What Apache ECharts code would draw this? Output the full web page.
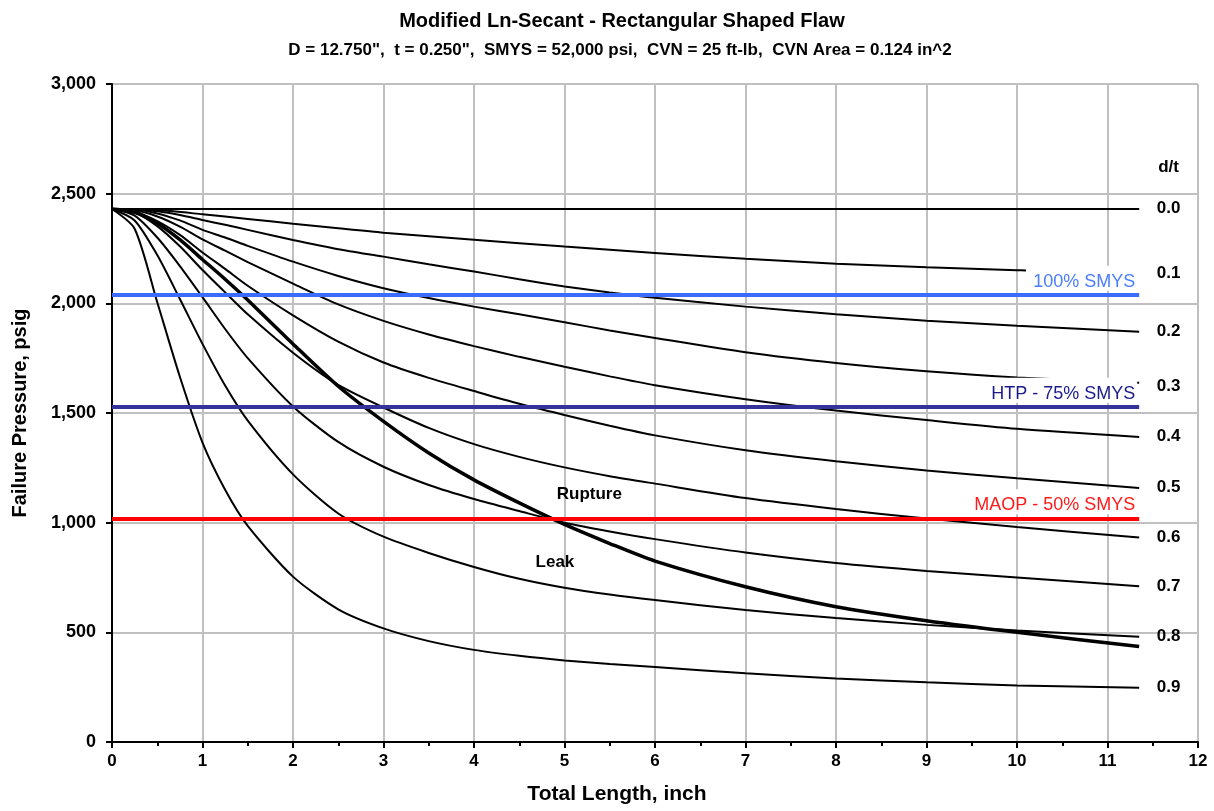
<!DOCTYPE html>
<html>
<head>
<meta charset="utf-8">
<title>Modified Ln-Secant - Rectangular Shaped Flaw</title>
<script src="https://cdn.jsdelivr.net/npm/echarts@6/dist/echarts.min.js"></script>
<style>
  html, body { margin: 0; padding: 0; background: #fff; }
  #chart { width: 1214px; height: 811px; }
</style>
</head>
<body>
<div id="chart"></div>
<script>
const FONT = '"Liberation Sans", Arial, sans-serif'

// total flaw length, inch (shared by the d/t = 0.2 ... 0.9 curves)
const lengths = [0, 0.25, 0.5, 0.75, 1, 1.25, 1.5, 2, 2.5, 3, 3.5, 4, 4.5, 5, 5.5, 6, 7, 8, 9, 10, 11.35]

// failure pressure, psig
const dt00Len = [0, 11.35]
const dt00 = [2430, 2430]
const dt01Len = [0, 0.5, 1, 1.5, 2, 2.5, 3, 4, 5, 6, 7, 8, 9, 10, 10.1]
const dt01 = [2430, 2425, 2406, 2385, 2363, 2342, 2322, 2290, 2259, 2230, 2203, 2181, 2164, 2151, 2150]
const dt02 = [2430, 2429, 2420, 2403, 2380, 2358, 2335, 2289, 2247, 2213, 2178, 2145, 2110, 2077, 2049, 2025, 1985, 1950, 1921, 1898, 1871]
const dt03 = [2430, 2428, 2410, 2378, 2335, 2300, 2262, 2190, 2125, 2069, 2024, 1985, 1950, 1914, 1876, 1842, 1777, 1728, 1690, 1662, 1638]
const dt04 = [2430, 2424, 2396, 2350, 2292, 2240, 2188, 2090, 1995, 1920, 1858, 1805, 1756, 1711, 1667, 1627, 1563, 1511, 1468, 1428, 1391]
const dt05 = [2430, 2418, 2375, 2312, 2232, 2157, 2080, 1945, 1825, 1730, 1660, 1600, 1542, 1491, 1442, 1398, 1330, 1280, 1238, 1203, 1158]
const dt06 = [2430, 2414, 2352, 2260, 2152, 2050, 1950, 1775, 1628, 1525, 1432, 1358, 1300, 1252, 1212, 1178, 1112, 1062, 1019, 980, 932]
const dt07 = [2430, 2400, 2300, 2170, 2028, 1883, 1750, 1530, 1368, 1255, 1172, 1108, 1053, 1000, 960, 925, 864, 816, 780, 750, 710]
const dt08 = [2430, 2378, 2220, 2020, 1815, 1625, 1465, 1220, 1042, 936, 862, 798, 744, 703, 672, 647, 602, 565, 534, 508, 480]
const dt09 = [2430, 2340, 2005, 1665, 1365, 1150, 985, 754, 605, 518, 460, 420, 393, 372, 356, 342, 313, 290, 272, 258, 247]

// leak / rupture boundary
const ruptureLen = [0, 0.25, 0.5, 0.75, 1, 1.25, 1.5, 2, 2.5, 3, 3.5, 4, 4.5, 5, 5.5, 6, 7, 8, 9, 10, 11.35]
const rupture = [2430, 2415, 2365, 2290, 2200, 2110, 2015, 1815, 1622, 1462, 1318, 1195, 1090, 992, 905, 825, 708, 617, 553, 500, 435]

// reference pressures
const refNames = ['100% SMYS', 'HTP - 75% SMYS', 'MAOP - 50% SMYS']
const refLevels = [2039, 1529, 1020]
const refColors = ['#3c6cff', '#333399', '#ff0000']
const refTextColors = ['#4a7dff', '#1a1a8c', '#ff1a1a']
const refEnd = 11.35

// d/t labels at the right edge
const dtLabels = ['d/t', '0.0', '0.1', '0.2', '0.3', '0.4', '0.5', '0.6', '0.7', '0.8', '0.9']
const dtLabelY = [2617, 2430, 2135, 1872, 1620, 1390, 1157, 932, 708, 480, 245]
const dtLabelX = 11.68

const regionLabels = ['Rupture', 'Leak']
const regionX = [5.28, 4.9]
const regionY = [1126, 816]

const zip = (xs, ys) => xs.map((x, i) => [x, ys[i]])

const curve = (name, xs, ys, width) => ({
  name,
  type: 'line',
  data: zip(xs, ys),
  showSymbol: false,
  smooth: 0.25,
  silent: true,
  z: 2,
  lineStyle: { color: '#000', width: width || 2 }
})

const textLabels = (name, points, texts, size) => ({
  name,
  type: 'scatter',
  silent: true,
  z: 6,
  symbolSize: 1,
  itemStyle: { color: '#fff', opacity: 1 },
  data: points,
  label: {
    show: true,
    position: [0, 0],
    align: 'center',
    verticalAlign: 'middle',
    formatter: p => texts[p.dataIndex],
    color: '#000',
    opacity: 1,
    textBorderWidth: 0,
    fontFamily: FONT,
    fontWeight: 'bold',
    fontSize: size
  }
})

const series = [
  curve('0.0', dt00Len, dt00),
  curve('0.1', dt01Len, dt01),
  curve('0.2', lengths, dt02),
  curve('0.3', lengths, dt03),
  curve('0.4', lengths, dt04),
  curve('0.5', lengths, dt05),
  curve('0.6', lengths, dt06),
  curve('0.7', lengths, dt07),
  curve('0.8', lengths, dt08),
  curve('0.9', lengths, dt09),
  curve('Rupture boundary', ruptureLen, rupture, 3.5)
]

refLevels.forEach((v, i) => {
  series.push({
    name: refNames[i],
    type: 'line',
    data: [],
    z: 5,
    markLine: {
      silent: true,
      symbol: 'none',
      lineStyle: { color: refColors[i], width: 4, type: 'solid' },
      label: {
        show: true,
        position: 'insideEndTop',
        distance: [2, 4],
        formatter: refNames[i],
        color: refTextColors[i],
        fontFamily: FONT,
        fontSize: 18,
        backgroundColor: '#fff',
        padding: [7, 2, 0, 2]
      },
      emphasis: { disabled: true },
      data: [[{ coord: [0, v] }, { coord: [refEnd, v] }]]
    }
  })
})

series.push(textLabels('d/t labels', dtLabelY.map(y => [dtLabelX, y]), dtLabels, 17))
series.push(textLabels('regions', zip(regionX, regionY), regionLabels, 17))

const chart = echarts.init(document.getElementById('chart'))

const option = {
  animation: false,
  backgroundColor: '#fff',
  title: [
    {
      text: 'Modified Ln-Secant - Rectangular Shaped Flaw',
      left: 617,
      top: 6,
      textAlign: 'center',
      textStyle: { fontFamily: FONT, fontWeight: 'bold', fontSize: 20, color: '#000' }
    },
    {
      text: 'D = 12.750",  t = 0.250",  SMYS = 52,000 psi,  CVN = 25 ft-lb,  CVN Area = 0.124 in^2',
      left: 615,
      top: 37,
      textAlign: 'center',
      textStyle: { fontFamily: FONT, fontWeight: 'bold', fontSize: 17, color: '#000' }
    }
  ],
  grid: { left: 112, right: 16, top: 84, bottom: 69, containLabel: false },
  xAxis: {
    type: 'value',
    min: 0,
    max: 12,
    interval: 1,
    name: 'Total Length, inch',
    nameLocation: 'middle',
    nameGap: 42,
    nameTextStyle: { fontFamily: FONT, fontWeight: 'bold', fontSize: 21, color: '#000', padding: [0, 76, 0, 0] },
    axisLine: { onZero: false, lineStyle: { color: '#000', width: 2 } },
    axisTick: { show: true, length: 6, lineStyle: { color: '#000', width: 2 } },
    minorTick: { show: true, splitNumber: 2, length: 4, lineStyle: { color: '#000', width: 2 } },
    splitLine: { show: true, lineStyle: { color: '#c0c0c0', width: 2 } },
    axisLabel: { color: '#000', fontFamily: FONT, fontWeight: 'bold', fontSize: 17, margin: 11 }
  },
  yAxis: {
    type: 'value',
    min: 0,
    max: 3000,
    interval: 500,
    name: 'Failure Pressure, psig',
    nameLocation: 'middle',
    nameGap: 82,
    nameTextStyle: { fontFamily: FONT, fontWeight: 'bold', fontSize: 20, color: '#000' },
    axisLine: { show: true, onZero: false, lineStyle: { color: '#000', width: 2 } },
    axisTick: { show: true, length: 6, lineStyle: { color: '#000', width: 2 } },
    splitLine: { show: true, lineStyle: { color: '#c0c0c0', width: 2 } },
    axisLabel: {
      color: '#000',
      fontFamily: FONT,
      fontWeight: 'bold',
      fontSize: 18,
      margin: 16,
      formatter: v => v.toLocaleString('en-US')
    }
  },
  series
}

chart.setOption(option)
</script>
</body>
</html>
